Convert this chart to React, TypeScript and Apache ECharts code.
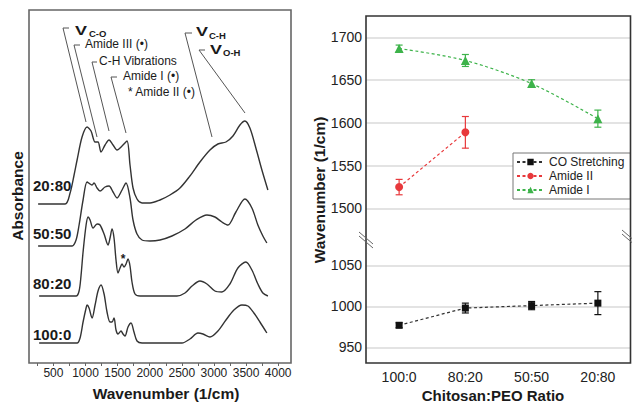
import React, { useEffect, useRef } from "react";
import * as echarts from "echarts";

// ---------- Left panel: FTIR spectra ----------
const spectrumLabels = ["20:80", "50:50", "80:20", "100:0"];
const spectrumOffsets = [1.59, 1.17, 0.67, 0.2];

const wn2080 = [262, 682, 760, 822, 869, 946, 1024, 1086, 1149, 1195, 1242, 1304, 1366, 1429, 1491, 1569, 1646, 1693, 1740, 1802, 1880, 2004, 2160, 2315, 2471, 2626, 2782, 2938, 3062, 3187, 3296, 3405, 3482, 3560, 3653, 3747, 3840];
const abs2080 = [0, 0, 0.11, 0.29, 0.44, 0.67, 0.77, 0.73, 0.62, 0.62, 0.52, 0.59, 0.64, 0.59, 0.54, 0.58, 0.63, 0.39, 0.16, 0.05, 0.01, 0.01, 0.04, 0.09, 0.16, 0.28, 0.42, 0.54, 0.6, 0.62, 0.68, 0.79, 0.83, 0.76, 0.56, 0.34, 0.14];

const wn5050 = [262, 791, 853, 900, 962, 1024, 1071, 1102, 1133, 1180, 1226, 1304, 1366, 1429, 1491, 1569, 1631, 1693, 1740, 1802, 1880, 2004, 2160, 2346, 2549, 2720, 2891, 3015, 3124, 3218, 3342, 3482, 3591, 3684, 3762, 3824];
const abs5050 = [0, 0, 0.06, 0.21, 0.46, 0.64, 0.62, 0.61, 0.63, 0.58, 0.55, 0.59, 0.6, 0.54, 0.48, 0.56, 0.63, 0.48, 0.26, 0.12, 0.06, 0.05, 0.06, 0.1, 0.17, 0.26, 0.31, 0.29, 0.24, 0.21, 0.34, 0.47, 0.38, 0.21, 0.1, 0.03];

const wn8020 = [278, 853, 900, 931, 962, 1009, 1040, 1071, 1118, 1180, 1226, 1289, 1351, 1382, 1413, 1444, 1475, 1506, 1538, 1569, 1600, 1631, 1662, 1693, 1724, 1771, 1849, 2424, 2549, 2658, 2782, 2891, 3015, 3124, 3249, 3373, 3498, 3591, 3684, 3762, 3840];
const abs8020 = [0, 0, 0.05, 0.21, 0.44, 0.71, 0.79, 0.76, 0.68, 0.72, 0.71, 0.62, 0.51, 0.58, 0.67, 0.58, 0.36, 0.23, 0.28, 0.32, 0.29, 0.32, 0.37, 0.3, 0.14, 0.02, 0, 0, 0.03, 0.1, 0.15, 0.12, 0.05, 0.04, 0.12, 0.28, 0.34, 0.26, 0.12, 0.03, 0];

const wn1000 = [278, 869, 915, 962, 1009, 1024, 1055, 1102, 1149, 1195, 1242, 1289, 1335, 1382, 1413, 1444, 1475, 1506, 1553, 1584, 1615, 1662, 1709, 1755, 1802, 1880, 2502, 2626, 2751, 2829, 2938, 3062, 3187, 3311, 3436, 3529, 3622, 3716, 3824];
const abs1000 = [0, 0, 0.05, 0.21, 0.35, 0.38, 0.35, 0.25, 0.38, 0.52, 0.58, 0.49, 0.31, 0.21, 0.21, 0.25, 0.13, 0.09, 0.12, 0.09, 0.07, 0.16, 0.2, 0.11, 0.02, 0, 0, 0.04, 0.1, 0.09, 0.06, 0.12, 0.23, 0.33, 0.38, 0.37, 0.3, 0.21, 0.1];

const spectraWn = [wn2080, wn5050, wn8020, wn1000];
const spectraAbs = [abs2080, abs5050, abs8020, abs1000];

const wnLabelTicks = [500, 1000, 1500, 2000, 2500, 3000, 3500, 4000];
const wnMinorTicks = [250, 500, 750, 1000, 1250, 1500, 1750, 2000, 2250, 2500, 2750, 3000, 3250, 3500, 3750, 4000];

// ---------- Right panel: peak positions ----------
const ratios = ["100:0", "80:20", "50:50", "20:80"];
const coStretching = [977, 998, 1001, 1004];
const coStretchingErr = [3, 6, 5, 14];
const amideII = [1525, 1589];
const amideIIErr = [9, 18.5];
const amideI = [1687, 1673, 1646, 1605];
const amideIErr = [4, 7, 4.5, 10];

const upperTicks = [1500, 1550, 1600, 1650, 1700];
const lowerTicks = [950, 1000, 1050];

const FONT = '"Liberation Sans", Arial, sans-serif';
const GREEN = "#3db34a";
const RED = "#e8393c";
const BLACK = "#111";

const plain = (v: number) => String(v);

function errorSeries(name: string, values: number[], errs: number[], color: string, axisIdx: number) {
  return {
    type: "custom",
    name,
    xAxisIndex: axisIdx,
    yAxisIndex: axisIdx,
    z: 1,
    silent: true,
    data: values.map((v, i) => [i, v - errs[i], v + errs[i]]),
    renderItem: (params: any, api: any) => {
      const lo = api.coord([api.value(0), api.value(1)]);
      const hi = api.coord([api.value(0), api.value(2)]);
      const w = 3.5;
      const st = { stroke: color, lineWidth: 1.2 };
      return {
        type: "group",
        children: [
          { type: "line", shape: { x1: lo[0], y1: lo[1], x2: hi[0], y2: hi[1] }, style: st },
          { type: "line", shape: { x1: lo[0] - w, y1: lo[1], x2: lo[0] + w, y2: lo[1] }, style: st },
          { type: "line", shape: { x1: hi[0] - w, y1: hi[1], x2: hi[0] + w, y2: hi[1] }, style: st },
        ],
      };
    },
  };
}

function txt(text: string, x: number, y: number, font: string, align = "left", extra: any = {}) {
  return {
    type: "text",
    x,
    y,
    z: 10,
    ...extra,
    style: { text, font, fill: "#1a1a1a", textAlign: align, textVerticalAlign: "middle" },
  };
}

function leader(points: number[][]) {
  return { type: "polyline", z: 10, shape: { points }, style: { stroke: "#555", lineWidth: 1, fill: "none" } };
}

export default function App() {
  const ref = useRef<HTMLDivElement>(null);
  useEffect(() => {
    if (!ref.current) return;
    const chart = echarts.init(ref.current, undefined, { renderer: "svg" });

    const spectraSeries = spectraWn.map((wns, k) => ({
      type: "line",
      name: spectrumLabels[k],
      xAxisIndex: 0,
      yAxisIndex: 0,
      smooth: 0.3,
      symbol: "none",
      silent: true,
      lineStyle: { color: "#333", width: 1.4 },
      data: wns.map((w, i) => [w, spectraAbs[k][i] + spectrumOffsets[k]]),
    }));

    const dashed = [3, 2.5];
    const yLabel = { fontSize: 14, color: "#222", margin: 4, fontFamily: FONT, formatter: plain };
    const gridLine = { show: true, lineStyle: { color: "#dadada", width: 1.5 } };

    const option: any = {
      animation: false,
      textStyle: { fontFamily: FONT },
      grid: [
        { left: 29, top: 10, width: 262, height: 353 },
        { left: 366, top: 16, width: 265, height: 220.7 },
        { left: 366, top: 236.7, width: 265, height: 126.3 },
      ],
      xAxis: [
        {
          gridIndex: 0,
          type: "value",
          min: 120,
          max: 4200,
          axisLine: { show: false },
          splitLine: { show: false },
          axisTick: { show: true, customValues: wnMinorTicks, length: 3, lineStyle: { color: "#666" } },
          axisLabel: { customValues: wnLabelTicks, fontSize: 12, color: "#222", margin: 4, fontFamily: FONT, formatter: plain },
        },
        { gridIndex: 1, type: "category", data: ratios, show: false },
        {
          gridIndex: 2,
          type: "category",
          data: ratios,
          axisLine: { show: false },
          axisTick: { show: false },
          axisLabel: { fontSize: 14, color: "#222", margin: 7, fontFamily: FONT },
        },
      ],
      yAxis: [
        { gridIndex: 0, type: "value", min: 0, max: 3.53, show: false },
        {
          gridIndex: 1,
          type: "value",
          min: 1467,
          max: 1725,
          axisLine: { show: false },
          axisTick: { show: false, customValues: upperTicks },
          axisLabel: { ...yLabel, customValues: upperTicks },
          splitLine: gridLine,
        },
        {
          gridIndex: 2,
          type: "value",
          min: 931,
          max: 1085,
          axisLine: { show: false },
          axisTick: { show: false, customValues: lowerTicks },
          axisLabel: { ...yLabel, customValues: lowerTicks },
          splitLine: gridLine,
        },
      ],
      legend: {
        data: ["CO Stretching", "Amide II", "Amide I"],
        orient: "vertical",
        left: 513,
        top: 153,
        padding: [3, 6, 3, 3],
        itemGap: 2,
        itemWidth: 27,
        itemHeight: 8,
        borderColor: "#777",
        borderWidth: 1,
        backgroundColor: "#fff",
        textStyle: { fontSize: 12, color: "#222", fontFamily: FONT },
      },
      series: [
        ...spectraSeries,
        errorSeries("co-err", coStretching, coStretchingErr, BLACK, 2),
        errorSeries("a2-err", amideII, amideIIErr, RED, 1),
        errorSeries("a1-err", amideI, amideIErr, GREEN, 1),
        {
          type: "line",
          name: "CO Stretching",
          xAxisIndex: 2,
          yAxisIndex: 2,
          symbol: "rect",
          symbolSize: 7,
          color: BLACK,
          itemStyle: { color: BLACK },
          lineStyle: { color: "#333", width: 1.2, type: dashed },
          data: coStretching,
        },
        {
          type: "line",
          name: "Amide II",
          xAxisIndex: 1,
          yAxisIndex: 1,
          symbol: "circle",
          symbolSize: 8,
          color: RED,
          itemStyle: { color: RED },
          lineStyle: { color: RED, width: 1.2, type: dashed },
          data: amideII,
        },
        {
          type: "line",
          name: "Amide I",
          xAxisIndex: 1,
          yAxisIndex: 1,
          symbol: "triangle",
          symbolSize: 9,
          smooth: 0.3,
          color: GREEN,
          itemStyle: { color: GREEN },
          lineStyle: { color: GREEN, width: 1.2, type: dashed },
          data: amideI,
        },
      ],
      graphic: [
        // frames
        { type: "rect", z: 5, shape: { x: 29, y: 10, width: 262, height: 353 }, style: { fill: "none", stroke: "#666", lineWidth: 1.6 } },
        { type: "rect", z: 5, shape: { x: 366, y: 16, width: 264.5, height: 347 }, style: { fill: "none", stroke: "#333", lineWidth: 1.6 } },
        // break marks
        { type: "line", z: 6, shape: { x1: 359, y1: 232, x2: 373, y2: 244 }, style: { stroke: "#666", lineWidth: 1 } },
        { type: "line", z: 6, shape: { x1: 359, y1: 236, x2: 373, y2: 248 }, style: { stroke: "#666", lineWidth: 1 } },
        { type: "line", z: 6, shape: { x1: 622, y1: 230, x2: 636, y2: 242 }, style: { stroke: "#666", lineWidth: 1 } },
        { type: "line", z: 6, shape: { x1: 622, y1: 234, x2: 636, y2: 246 }, style: { stroke: "#666", lineWidth: 1 } },
        // axis titles
        txt("Absorbance", 17, 196, `bold 15.5px ${FONT}`, "center", { rotation: Math.PI / 2 }),
        txt("Wavenumber (1/cm)", 166, 393, `bold 15.5px ${FONT}`, "center"),
        txt("Wavenumber (1/cm)", 319, 190, `bold 15.5px ${FONT}`, "center", { rotation: Math.PI / 2 }),
        txt("Chitosan:PEO Ratio", 493, 395, `bold 15px ${FONT}`, "center"),
        // spectrum labels
        txt(spectrumLabels[0], 33, 185, `bold 15px ${FONT}`),
        txt(spectrumLabels[1], 33, 233, `bold 15px ${FONT}`),
        txt(spectrumLabels[2], 33, 283, `bold 15px ${FONT}`),
        txt(spectrumLabels[3], 33, 334, `bold 15px ${FONT}`),
        txt("*", 123, 259, `bold 12px ${FONT}`, "center"),
        // annotations
        leader([[69, 28], [63, 28], [86, 122]]),
        leader([[80, 45], [74, 45], [97, 137]]),
        leader([[97, 62], [92, 62], [109, 131]]),
        leader([[117, 77], [111, 77], [126, 133]]),
        leader([[192, 33], [185, 33], [212, 137]]),
        leader([[205, 50], [199, 50], [245, 113]]),
        txt("V", 75, 31, `bold 12px ${FONT}`, "left", { scaleX: 1.5 }),
        txt("C-O", 89, 33, `bold 9.5px ${FONT}`),
        txt("Amide III (•)", 85, 44, `12px ${FONT}`),
        txt("C-H Vibrations", 99, 61, `12px ${FONT}`),
        txt("Amide I (•)", 123, 76, `12px ${FONT}`),
        txt("* Amide II (•)", 128, 92, `12px ${FONT}`),
        txt("V", 196, 32, `bold 12px ${FONT}`, "left", { scaleX: 1.5 }),
        txt("C-H", 209, 35, `bold 9.5px ${FONT}`),
        txt("V", 210, 49.5, `bold 12px ${FONT}`, "left", { scaleX: 1.5 }),
        txt("O-H", 223, 52.5, `bold 9.5px ${FONT}`),
      ],
    };

    chart.setOption(option);
    return () => chart.dispose();
  }, []);

  return (
    <div
      ref={ref}
      style={{ position: "fixed", left: 0, top: 0, width: 632, height: 404, background: "#fff" }}
    />
  );
}
